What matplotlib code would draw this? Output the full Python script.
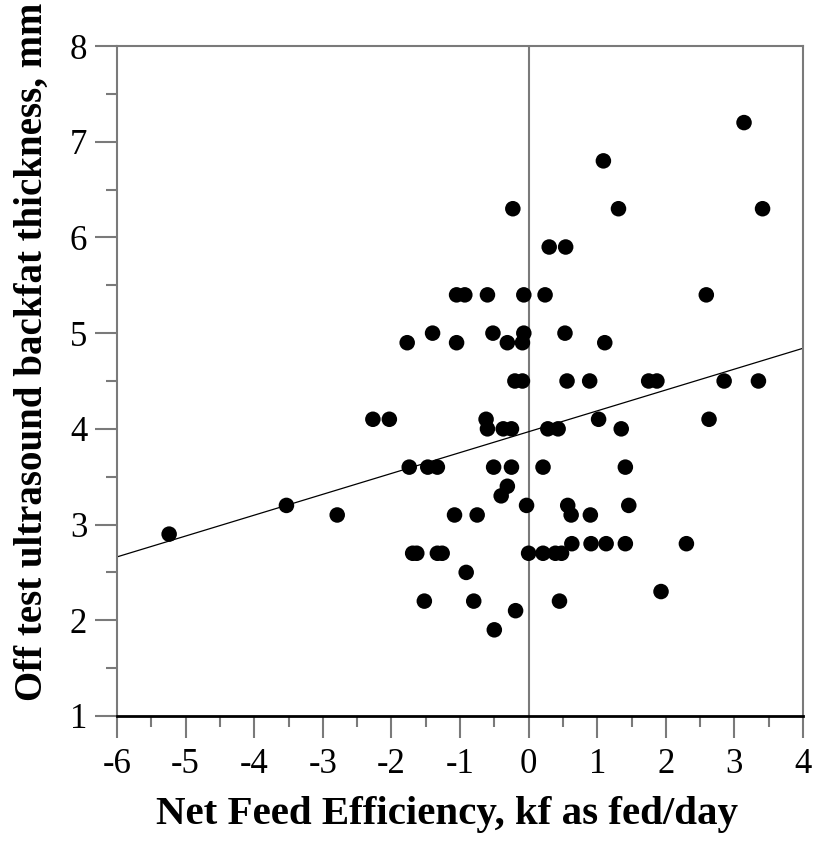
import matplotlib
matplotlib.use("Agg")
import matplotlib.pyplot as plt
import numpy as np
from matplotlib.ticker import MultipleLocator

plt.rcParams['font.family'] = ['Liberation Serif', 'DejaVu Serif']
plt.rcParams['axes.unicode_minus'] = False

net_feed_eff = [3.14, 1.09, -0.23, 1.31, 3.41, 0.30, 0.54,
                -1.05, -0.93, -0.60, -0.07, 0.24, 2.59,
                -1.40, -0.52, -0.07, 0.53,
                -1.77, -1.05, -0.31, -0.09, 1.11,
                -0.20, -0.09, 0.56, 0.89, 1.75, 1.87, 2.85, 3.35,
                -2.27, -2.03, -0.62, 1.02, 2.63,
                -0.60, -0.37, -0.25, 0.28, 0.43, 1.35,
                -1.74, -1.47, -1.33, -0.51, -0.25, 0.21, 1.41,
                -0.31, -0.40,
                -3.53, -0.03, 0.57, 1.46,
                -2.79, -1.08, -0.75, 0.62, 0.90,
                -5.24,
                0.63, 0.91, 1.13, 1.41, 2.30,
                -1.69, -1.63, -1.33, -1.26, 0.00, 0.21, 0.39, 0.48,
                -0.91, 1.93, -1.52, -0.80, 0.45, -0.19, -0.50]
backfat = [7.2, 6.8, 6.3, 6.3, 6.3, 5.9, 5.9,
           5.4, 5.4, 5.4, 5.4, 5.4, 5.4,
           5.0, 5.0, 5.0, 5.0,
           4.9, 4.9, 4.9, 4.9, 4.9,
           4.5, 4.5, 4.5, 4.5, 4.5, 4.5, 4.5, 4.5,
           4.1, 4.1, 4.1, 4.1, 4.1,
           4.0, 4.0, 4.0, 4.0, 4.0, 4.0,
           3.6, 3.6, 3.6, 3.6, 3.6, 3.6, 3.6,
           3.4, 3.3,
           3.2, 3.2, 3.2, 3.2,
           3.1, 3.1, 3.1, 3.1, 3.1,
           2.9,
           2.8, 2.8, 2.8, 2.8, 2.8,
           2.7, 2.7, 2.7, 2.7, 2.7, 2.7, 2.7, 2.7,
           2.5, 2.3, 2.2, 2.2, 2.2, 2.1, 1.9]

fit_intercept = 3.97
fit_slope = 0.218

x_ticks = [-6, -5, -4, -3, -2, -1, 0, 1, 2, 3, 4]
y_ticks = [1, 2, 3, 4, 5, 6, 7, 8]

fig = plt.figure(figsize=(8.17, 8.43), dpi=100)
ax = fig.add_axes([0.1432, 0.1507, 0.8397, 0.7947])

gray = '#7a7a7a'
ax.axvline(0, color=gray, lw=1.5, zorder=1)
xl = np.array([-6, 4])
ax.plot(xl, fit_intercept + fit_slope * xl, color='black', lw=0.9, zorder=2)
ax.scatter(net_feed_eff, backfat, s=125, color='black', edgecolors='none', zorder=3)

ax.set_xlim(-6, 4)
ax.set_ylim(1, 8)
ax.set_xticks(x_ticks)
ax.set_yticks(y_ticks)
ax.xaxis.set_minor_locator(MultipleLocator(0.5))
ax.yaxis.set_minor_locator(MultipleLocator(0.5))
ax.tick_params(which='major', length=16, width=1.5, color=gray, labelsize=25)
ax.tick_params(which='minor', length=8, width=1.5, color=gray)
ax.tick_params(axis='x', which='major', pad=7)
ax.tick_params(axis='y', which='major', pad=5.5)

for s in ['left', 'top', 'right']:
    ax.spines[s].set_color(gray)
    ax.spines[s].set_linewidth(1.5)
ax.spines['bottom'].set_color('black')
ax.spines['bottom'].set_linewidth(2.0)

xlab = ax.set_xlabel('Net Feed Efficiency, kf as fed/day', fontsize=29.5, fontweight='bold')
xlab.set_va('center')
ax.xaxis.set_label_coords(0.481, -0.147)
ylab = ax.set_ylabel('Off test ultrasound backfat thickness, mm', fontsize=28, fontweight='bold')
ylab.set_va('center')
ax.yaxis.set_label_coords(-0.123, 0.543)

fig.savefig('out.png', dpi=100)
